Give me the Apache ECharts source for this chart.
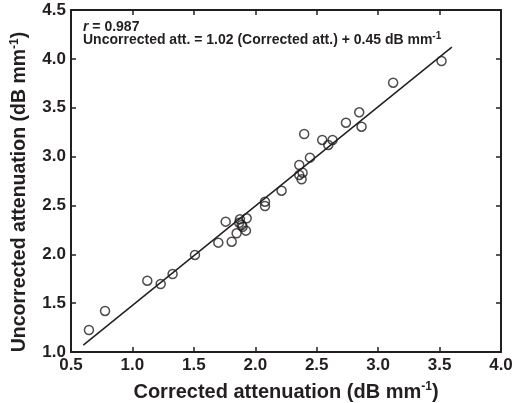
<!DOCTYPE html>
<html><head><meta charset="utf-8">
<script src="https://cdn.jsdelivr.net/npm/echarts@6/dist/echarts.min.js"></script>
<style>html,body{margin:0;padding:0;background:#fff}#c{width:512px;height:403px}</style>
</head><body><div id="c"></div>
<script>
var correctedAtt = [0.646,0.777,1.121,1.230,1.327,1.509,1.699,1.759,1.808,1.848,1.875,1.869,1.889,1.897,1.930,1.924,2.079,2.079,2.214,2.358,2.358,2.385,2.377,2.398,2.445,2.545,2.594,2.629,2.738,2.846,2.865,3.122,3.516];
var uncorrectedAtt = [1.225,1.420,1.730,1.696,1.798,1.993,2.119,2.334,2.129,2.215,2.358,2.323,2.300,2.282,2.368,2.242,2.538,2.494,2.651,2.914,2.812,2.835,2.768,3.231,2.989,3.170,3.119,3.170,3.347,3.453,3.306,3.756,3.978];
var fitX = [0.6, 3.6];
var fitY = [1.07, 4.12];
var xTicks = ['0.5','1.0','1.5','2.0','2.5','3.0','3.5','4.0'];
var yTicks = ['1.0','1.5','2.0','2.5','3.0','3.5','4.0','4.5'];

var FF = 'Liberation Sans, Arial, sans-serif';
var INK = '#231f20';
var pts = correctedAtt.map(function(x,i){return [x, uncorrectedAtt[i]];});
var fit = fitX.map(function(x,i){return [x, fitY[i]];});
var supStyle = {fontSize: 12, fontWeight: 'bold', fontFamily: FF, color: INK, padding: [0,0,10,0]};

var chart = echarts.init(document.getElementById('c'));
var axCommon = {
  axisLine: {show: true, onZero: false, lineStyle: {color: INK, width: 2}},
  axisTick: {show: true, inside: true, length: 5, lineStyle: {color: INK, width: 1.5}},
  splitLine: {show: false}
};
function ax(extra){ return Object.assign({}, JSON.parse(JSON.stringify(axCommon)), extra); }
var lblStyle = {color: INK, fontSize: 17, fontWeight: 'bold', fontFamily: FF};
chart.setOption({
  animation: false,
  grid: {left: 71, right: 11, top: 10, bottom: 51, containLabel: false, outerBoundsMode: 'none'},
  xAxis: [
    ax({type: 'value', min: 0.5, max: 4.0, interval: 0.5, position: 'bottom',
      axisLabel: Object.assign({margin: 5, formatter: function(v){ return xTicks[Math.round((v-0.5)/0.5)]; }}, lblStyle),
      name: 'Corrected attenuation (dB mm{sup|-1})', nameLocation: 'middle', nameGap: 29,
      nameTextStyle: {color: INK, fontSize: 20, fontWeight: 'bold', fontFamily: FF, rich: {sup: supStyle}}}),
    ax({type: 'value', min: 0.5, max: 4.0, interval: 0.5, position: 'top', axisLabel: {show: false}})
  ],
  yAxis: [
    ax({type: 'value', min: 1.0, max: 4.5, interval: 0.5, position: 'left',
      axisLabel: Object.assign({margin: 5, formatter: function(v){ return yTicks[Math.round((v-1)/0.5)]; }}, lblStyle),
      name: 'Uncorrected attenuation (dB mm{sup|-1})', nameLocation: 'middle', nameGap: 40,
      nameTextStyle: {color: INK, fontSize: 19.5, fontWeight: 'bold', fontFamily: FF, padding: [0, 22, 0, 0], rich: {sup: supStyle}}}),
    ax({type: 'value', min: 1.0, max: 4.5, interval: 0.5, position: 'right', axisLabel: {show: false}})
  ],
  series: [
    {type: 'line', data: fit, symbol: 'none', lineStyle: {color: INK, width: 1.5}, z: 2},
    {type: 'scatter', data: pts, symbol: 'circle', symbolSize: 9,
      itemStyle: {color: 'rgba(255,255,255,0)', borderColor: INK, borderWidth: 1.5}, z: 3}
  ],
  graphic: [
    {type: 'text', left: 83, top: 20, style: {
      text: '{i|r} = 0.987', fill: INK, font: 'bold 14px ' + FF,
      rich: {i: {fontStyle: 'italic', fontWeight: 'bold', fontSize: 14, fontFamily: FF}}}},
    {type: 'text', left: 83, top: 31, style: {
      text: 'Uncorrected att. = 1.02 (Corrected att.) + 0.45 dB mm{s|-1}', fill: INK, font: 'bold 14px ' + FF,
      rich: {s: {fontSize: 10, fontWeight: 'bold', fontFamily: FF, padding: [0,0,8,0]}}}}
  ]
});
</script></body></html>
